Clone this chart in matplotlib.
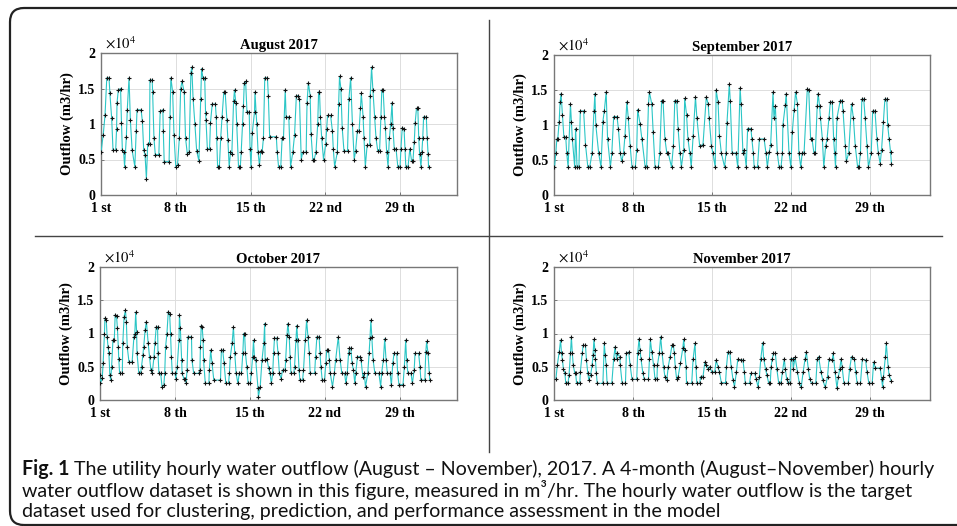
import matplotlib
matplotlib.use("Agg")
import matplotlib.pyplot as plt
import matplotlib.patches as mpatches
from matplotlib.lines import Line2D
from matplotlib.transforms import IdentityTransform

# ---------------- data (hour of month, outflow in 1e4 m3/hr) ----------------
aug_hours = [0, 5, 9, 13, 18, 20, 24, 27, 33, 35, 36, 39, 44, 46, 48, 51, 53, 57, 59, 63,
             66, 70, 76, 79, 81, 90, 93, 96, 99, 102, 105, 109, 110, 115, 116, 119, 122, 130, 133, 139,
             140, 142, 153, 155, 157, 161, 164, 168, 172, 176, 179, 182, 187, 190, 194, 198, 202, 204, 207, 211,
             215, 220, 224, 226, 229, 233, 235, 236, 239, 244, 246, 250, 257, 259, 260, 262, 266, 269, 272, 276,
             279, 283, 285, 288, 291, 294, 298, 300, 303, 305, 309, 313, 315, 318, 320, 322, 325, 328, 333, 335,
             337, 340, 345, 346, 350, 353, 356, 359, 362, 365, 368, 374, 376, 379, 394, 396, 399, 404, 407, 410,
             414, 416, 422, 426, 431, 435, 439, 442, 446, 450, 453, 461, 463, 466, 470, 472, 476, 479, 483, 487,
             489, 491, 493, 496, 500, 505, 507, 509, 516, 520, 522, 525, 531, 534, 536, 539, 542, 546, 554, 557,
             561, 565, 569, 572, 576, 580, 583, 585, 589, 591, 594, 598, 604, 605, 608, 611, 615, 618, 622, 626,
             629, 631, 634, 637, 639, 642, 645, 648, 651, 654, 656, 659, 663, 667, 672, 674, 677, 681, 683, 685,
             690, 694, 698, 701, 704, 706, 709, 712, 714, 716, 719, 721, 723, 725, 731, 733, 735, 736]
aug_flow = [0.6, 0.85, 1.12, 1.65, 1.65, 1.43, 1.08, 0.63, 0.63, 0.93, 1.3, 1.48, 1.5, 1.02, 0.63, 0.6, 0.4, 0.82, 1.2, 1.65,
            1.05, 0.63, 0.4, 0.9, 1.2, 1.2, 1.04, 0.63, 0.56, 0.23, 0.72, 0.72, 1.62, 1.62, 1.45, 0.8, 0.57, 0.57, 1.18, 1.2,
            0.9, 0.47, 0.47, 1.1, 1.65, 1.45, 0.85, 0.4, 0.42, 0.8, 1.5, 1.6, 1.45, 0.8, 0.58, 0.6, 1.72, 1.8, 1.35, 1.0,
            0.62, 0.48, 1.35, 1.78, 1.65, 1.65, 1.15, 1.05, 0.65, 0.65, 1.02, 1.28, 1.28, 1.1, 0.8, 0.4, 0.4, 0.8, 1.1, 1.45,
            1.45, 1.05, 0.78, 0.4, 0.6, 0.58, 1.33, 1.48, 1.3, 1.0, 0.4, 0.4, 0.6, 1.0, 1.25, 1.58, 1.6, 1.17, 1.17, 0.65,
            0.4, 0.88, 1.17, 1.45, 1.0, 0.6, 0.42, 0.62, 0.6, 0.8, 1.65, 1.65, 1.4, 0.82, 0.82, 0.6, 0.4, 0.4, 0.8, 0.8,
            1.48, 1.1, 1.1, 0.4, 0.6, 0.85, 1.4, 1.4, 1.35, 0.5, 0.6, 0.6, 1.3, 1.58, 1.4, 0.86, 0.5, 0.5, 0.6, 1.0,
            1.45, 1.45, 1.1, 0.8, 0.5, 0.72, 0.93, 1.12, 1.12, 0.9, 0.65, 0.4, 0.6, 1.28, 1.67, 1.5, 0.95, 0.62, 0.62, 1.35,
            1.65, 1.0, 0.5, 0.62, 0.9, 0.9, 1.22, 1.43, 1.1, 0.8, 0.4, 0.7, 0.7, 1.4, 1.8, 1.48, 1.1, 0.8, 0.62, 0.62,
            1.1, 1.48, 1.48, 1.1, 0.95, 0.6, 0.4, 0.8, 1.0, 1.3, 0.95, 0.65, 0.65, 0.4, 0.4, 0.65, 0.95, 0.93, 0.65, 0.4,
            0.4, 0.65, 0.48, 0.48, 0.75, 1.02, 1.22, 1.22, 0.8, 0.58, 0.4, 0.6, 0.8, 1.1, 1.1, 0.8, 0.58, 0.4]

sep_hours = [1, 4, 6, 8, 11, 13, 15, 18, 21, 25, 27, 30, 35, 37, 39, 44, 46, 49, 53, 56,
             63, 67, 72, 76, 81, 85, 87, 89, 95, 100, 104, 107, 111, 114, 120, 123, 127, 134, 137, 141,
             144, 148, 151, 155, 158, 162, 166, 173, 176, 178, 183, 187, 194, 197, 201, 203, 208, 211, 215, 222,
             225, 229, 232, 236, 240, 243, 250, 254, 257, 261, 264, 268, 271, 276, 278, 282, 285, 289, 292, 296,
             301, 304, 310, 317, 324, 328, 330, 335, 338, 343, 345, 349, 352, 356, 363, 366, 368, 373, 375, 379,
             387, 391, 396, 398, 402, 405, 409, 412, 419, 421, 424, 426, 433, 437, 447, 451, 454, 458, 461, 466,
             468, 471, 475, 479, 483, 486, 487, 492, 494, 500, 504, 507, 511, 514, 518, 521, 525, 528, 532, 539,
             542, 546, 549, 553, 556, 560, 562, 565, 567, 571, 574, 578, 581, 585, 588, 592, 595, 597, 599, 602,
             609, 613, 615, 620, 622, 627, 633, 637, 641, 646, 649, 652, 655, 659, 662, 666, 669, 675, 678, 683,
             687, 690, 694, 697, 701, 704, 708, 710, 713, 716, 718]
sep_flow = [0.4, 0.6, 0.8, 0.8, 1.05, 1.33, 1.45, 1.15, 0.83, 0.83, 0.6, 0.4, 1.3, 1.05, 0.8, 0.4, 0.95, 0.4, 0.4, 1.2,
            1.2, 0.72, 0.4, 0.4, 0.6, 1.2, 1.45, 1.0, 0.6, 0.4, 1.05, 1.2, 1.47, 0.8, 0.4, 0.6, 1.12, 1.12, 0.95, 0.6,
            0.48, 0.6, 0.85, 1.33, 1.1, 0.7, 0.4, 0.4, 0.65, 1.22, 1.02, 0.8, 0.4, 0.4, 1.3, 1.47, 1.3, 0.9, 0.4, 0.4,
            0.6, 1.35, 1.35, 0.8, 0.6, 0.6, 0.4, 0.7, 1.35, 1.35, 0.95, 0.6, 0.4, 0.65, 1.38, 1.15, 0.8, 0.6, 0.4, 0.85,
            1.4, 1.1, 0.7, 0.72, 1.4, 1.3, 1.1, 0.7, 0.6, 0.4, 1.5, 1.33, 0.85, 0.6, 0.4, 0.6, 1.03, 1.58, 1.35, 0.6,
            0.6, 0.4, 1.53, 1.3, 0.6, 0.65, 0.4, 0.95, 0.95, 0.8, 0.6, 0.4, 0.4, 0.8, 0.8, 0.6, 0.4, 0.62, 0.72, 1.47,
            1.1, 1.27, 0.6, 0.4, 0.4, 0.6, 1.0, 1.28, 1.45, 0.6, 0.4, 0.9, 1.22, 1.47, 1.3, 0.6, 0.4, 0.6, 0.6, 1.52,
            1.5, 0.8, 0.8, 0.6, 0.6, 1.27, 1.45, 1.27, 1.1, 0.8, 0.4, 0.7, 0.8, 1.1, 1.33, 1.33, 0.8, 0.6, 0.4, 1.1,
            1.35, 1.35, 1.2, 0.7, 0.48, 0.6, 1.3, 1.1, 0.7, 0.4, 0.4, 0.6, 1.37, 1.37, 1.1, 0.7, 0.4, 0.6, 1.2, 1.2,
            0.8, 0.6, 0.45, 0.65, 1.05, 1.37, 1.37, 1.0, 0.8, 0.62, 0.45]

oct_hours = [0, 1, 5, 7, 10, 11, 14, 16, 18, 20, 22, 24, 26, 29, 32, 34, 37, 39, 41, 42,
             44, 50, 51, 54, 57, 59, 61, 65, 72, 76, 78, 80, 82, 83, 87, 91, 93, 96, 98, 101,
             104, 108, 111, 114, 117, 121, 123, 126, 129, 130, 132, 136, 139, 143, 145, 147, 150, 153, 156, 158,
             160, 162, 168, 170, 173, 177, 178, 180, 183, 184, 188, 191, 193, 195, 197, 205, 206, 210, 221, 224,
             225, 227, 229, 231, 232, 236, 244, 245, 248, 251, 255, 270, 272, 275, 278, 282, 288, 290, 292, 296,
             299, 302, 305, 309, 312, 317, 320, 322, 324, 326, 329, 332, 337, 339, 342, 344, 346, 349, 354, 355,
             359, 363, 367, 369, 370, 374, 378, 381, 384, 387, 389, 391, 396, 399, 402, 406, 409, 415, 416, 419,
             421, 424, 426, 428, 434, 436, 439, 441, 443, 446, 448, 454, 456, 460, 463, 466, 469, 471, 481, 483,
             486, 491, 493, 495, 498, 503, 506, 508, 512, 514, 516, 521, 525, 528, 534, 538, 542, 548, 551, 554,
             557, 559, 562, 565, 568, 571, 573, 577, 583, 585, 589, 592, 595, 600, 603, 605, 607, 609, 612, 616,
             625, 629, 631, 635, 638, 641, 644, 650, 653, 656, 659, 665, 667, 670, 679, 682, 685, 687, 690, 697,
             700, 704, 706, 714, 717, 719, 728, 730, 732, 735, 738, 739]
oct_flow = [0.38, 0.25, 0.33, 0.55, 1.0, 1.23, 1.2, 0.95, 0.8, 0.7, 0.38, 0.3, 0.5, 0.9, 0.9, 1.28, 1.27, 1.08, 0.8, 0.62,
            0.4, 0.4, 0.85, 1.25, 1.35, 1.18, 0.8, 0.57, 0.57, 0.95, 1.0, 1.32, 1.03, 0.7, 0.4, 0.4, 0.5, 0.67, 0.8, 1.05,
            1.18, 0.85, 0.65, 0.45, 0.4, 0.65, 0.85, 1.1, 1.1, 0.7, 0.4, 0.4, 0.2, 0.22, 0.4, 0.8, 1.0, 1.33, 1.3, 1.0,
            0.65, 0.4, 0.4, 0.32, 0.5, 0.9, 1.28, 1.08, 0.6, 0.4, 0.32, 0.32, 0.25, 0.45, 0.95, 0.95, 0.6, 0.4, 0.4, 0.45,
            0.8, 1.12, 1.1, 0.9, 0.6, 0.25, 0.25, 0.45, 0.75, 0.55, 0.3, 0.3, 0.75, 0.75, 0.55, 0.25, 0.25, 0.4, 0.65, 0.85,
            1.1, 0.7, 0.4, 0.25, 0.4, 0.4, 0.7, 1.0, 1.0, 0.7, 0.5, 0.25, 0.25, 0.4, 0.65, 0.9, 0.65, 0.6, 0.18, 0.05,
            0.2, 0.6, 0.85, 1.15, 0.6, 0.62, 0.48, 0.4, 0.25, 0.4, 0.7, 0.93, 0.93, 0.7, 0.4, 0.32, 0.45, 0.45, 0.6, 0.98,
            1.15, 0.95, 0.65, 0.4, 0.4, 0.5, 0.9, 1.12, 0.9, 0.45, 0.3, 0.3, 0.45, 0.9, 1.2, 0.95, 0.7, 0.4, 0.4, 0.65,
            0.95, 0.95, 0.7, 0.5, 0.3, 0.3, 0.55, 0.75, 0.75, 0.6, 0.4, 0.2, 0.4, 0.6, 0.95, 0.6, 0.4, 0.4, 0.25, 0.4,
            0.7, 0.78, 0.78, 0.55, 0.45, 0.25, 0.4, 0.65, 0.65, 0.6, 0.35, 0.4, 0.2, 0.4, 0.7, 0.93, 1.2, 0.95, 0.6, 0.4,
            0.4, 0.2, 0.4, 0.6, 0.92, 0.6, 0.4, 0.4, 0.22, 0.55, 0.7, 0.7, 0.4, 0.23, 0.23, 0.5, 0.9, 0.6, 0.4, 0.4,
            0.25, 0.45, 0.7, 0.7, 0.5, 0.3, 0.3, 0.72, 0.88, 0.7, 0.4, 0.3]

nov_hours = [4, 7, 11, 14, 16, 18, 20, 23, 25, 30, 32, 35, 37, 39, 41, 44, 46, 48, 55, 56,
             60, 62, 67, 69, 72, 74, 78, 81, 83, 85, 87, 88, 90, 92, 104, 107, 109, 111, 113, 123,
             127, 130, 133, 135, 140, 141, 145, 152, 154, 159, 162, 166, 176, 178, 181, 183, 185, 189, 192, 201,
             203, 205, 208, 212, 215, 219, 220, 224, 227, 230, 233, 236, 240, 243, 247, 251, 254, 256, 258, 261,
             264, 269, 274, 276, 278, 281, 282, 293, 296, 300, 302, 304, 310, 312, 317, 321, 324, 328, 331, 336,
             342, 345, 349, 352, 356, 365, 367, 370, 374, 377, 381, 384, 388, 391, 398, 402, 405, 407, 416, 419,
             427, 430, 434, 437, 440, 444, 446, 450, 453, 457, 460, 462, 464, 467, 471, 474, 478, 483, 486, 490,
             492, 495, 498, 502, 504, 508, 509, 513, 518, 522, 526, 530, 534, 537, 541, 544, 548, 557, 560, 563,
             568, 572, 577, 582, 585, 592, 594, 598, 602, 605, 608, 611, 613, 617, 626, 629, 633, 639, 642, 645,
             652, 656, 663, 666, 670, 677, 680, 684, 694, 697, 699, 701, 705, 707, 711, 713, 718]
nov_flow = [0.31, 0.52, 0.72, 0.9, 0.7, 0.6, 0.47, 0.41, 0.26, 0.26, 0.38, 0.7, 0.95, 0.7, 0.52, 0.41, 0.4, 0.26, 0.26, 0.42,
            0.7, 0.82, 0.82, 0.6, 0.4, 0.3, 0.38, 0.52, 0.67, 0.91, 0.75, 0.62, 0.41, 0.25, 0.25, 0.85, 0.67, 0.52, 0.25, 0.25,
            0.62, 0.8, 0.62, 0.7, 0.65, 0.52, 0.25, 0.25, 0.7, 0.72, 0.52, 0.31, 0.31, 0.7, 0.92, 0.75, 0.62, 0.41, 0.31, 0.31,
            0.62, 0.91, 0.72, 0.52, 0.31, 0.31, 0.52, 0.7, 0.95, 0.7, 0.5, 0.35, 0.3, 0.5, 0.65, 0.82, 0.82, 0.7, 0.5, 0.31,
            0.35, 0.55, 0.78, 0.91, 0.75, 0.5, 0.25, 0.25, 0.62, 0.85, 0.5, 0.25, 0.25, 0.35, 0.35, 0.57, 0.52, 0.47, 0.5, 0.42,
            0.42, 0.6, 0.5, 0.42, 0.26, 0.26, 0.5, 0.72, 0.72, 0.5, 0.3, 0.2, 0.42, 0.61, 0.6, 0.6, 0.42, 0.25, 0.25, 0.4,
            0.4, 0.32, 0.2, 0.35, 0.62, 0.86, 0.62, 0.47, 0.37, 0.25, 0.25, 0.5, 0.61, 0.7, 0.7, 0.47, 0.26, 0.26, 0.42, 0.62,
            0.47, 0.32, 0.25, 0.25, 0.62, 0.62, 0.47, 0.64, 0.42, 0.25, 0.19, 0.42, 0.61, 0.72, 0.47, 0.32, 0.25, 0.25, 0.61, 0.65,
            0.42, 0.3, 0.19, 0.35, 0.61, 0.6, 0.7, 0.42, 0.18, 0.35, 0.47, 0.62, 0.5, 0.25, 0.25, 0.47, 0.65, 0.62, 0.42, 0.25,
            0.25, 0.61, 0.6, 0.42, 0.25, 0.25, 0.57, 0.48, 0.48, 0.32, 0.2, 0.35, 0.65, 0.85, 0.5, 0.37, 0.28]

titles = ["August 2017", "September 2017", "October 2017", "November 2017"]
tick_hours = [0, 168, 336, 504, 672]
tick_labels = ["1 st", "8 th", "15 th", "22 nd", "29 th"]
y_ticks = [0, 0.5, 1, 1.5, 2]
y_tick_labels = ["0", "0.5", "1", "1.5", "2"]
caption_bold = "Fig. 1"
caption_lines = [
    "The utility hourly water outflow (August \u2013 November), 2017. A 4-month (August\u2013November) hourly",
    "water outflow dataset is shown in this figure, measured in m\u00b3/hr. The hourly water outflow is the target",
    "dataset used for clustering, prediction, and performance assessment in the model",
]

# ---------------- figure ----------------
W, H = 957, 526
fig = plt.figure(figsize=(W / 100, H / 100), dpi=100)
plt.rcParams['mathtext.fontset'] = 'stix'
serif = ['Liberation Serif', 'DejaVu Serif']

# axes rectangles in pixel coords: (left, top, right, bottom)
rects = [(101, 53, 457, 195), (554, 55, 930, 195), (100, 267, 457, 400), (554, 267, 930, 400)]
series = [(aug_hours, aug_flow), (sep_hours, sep_flow), (oct_hours, oct_flow), (nov_hours, nov_flow)]

for (l, t, r, b), (hrs, flw), title in zip(rects, series, titles):
    ax = fig.add_axes([l / W, 1 - b / H, (r - l) / W, (b - t) / H])
    ax.plot(hrs, flw, color='#2cc6c6', lw=0.8, marker='+', ms=3.5, mec='#111111', mew=0.8, zorder=3)
    ax.set_xlim(0, 800)
    ax.set_ylim(0, 2)
    ax.set_xticks(tick_hours)
    ax.set_xticklabels(tick_labels, fontfamily=serif, fontweight='bold', fontsize=10)
    ax.set_yticks(y_ticks)
    ax.set_yticklabels(y_tick_labels, fontfamily=serif, fontweight='bold', fontsize=10)
    ax.tick_params(direction='in', length=2.5, width=0.6, color='#666666')
    ax.tick_params(axis='x', pad=5)
    ax.tick_params(axis='y', pad=4)
    ax.grid(True, color='#dddddd', lw=0.7, zorder=0)
    for sp in ax.spines.values():
        sp.set_color('#777777')
        sp.set_linewidth(1.0)
    ax.set_title(title, fontfamily=serif, fontweight='bold', fontsize=10.5, pad=3)
    ax.set_ylabel("Outflow (m3/hr)", fontfamily=serif, fontweight='bold', fontsize=10.5, labelpad=3)
    ax.text(0.01, 1.01, r'$\times 10^{4}$', transform=ax.transAxes, fontsize=10.5,
            ha='left', va='bottom')

# outer rounded frame
frame = mpatches.FancyBboxPatch((10, 1), 975, 517, boxstyle="round,pad=0,rounding_size=14",
                                transform=IdentityTransform(), fill=False, lw=1.6, ec='#222222')
fig.add_artist(frame)

# divider lines
fig.add_artist(Line2D([489 / W, 489 / W], [1 - 20 / H, 1 - 452 / H], transform=fig.transFigure,
                      color='#444444', lw=1.0))
fig.add_artist(Line2D([35 / W, 942 / W], [1 - 236 / H, 1 - 236 / H], transform=fig.transFigure,
                      color='#444444', lw=1.0))

# caption
cap_font = ['Lato', 'DejaVu Sans']
cap_size = 14.1
line_y = [469, 490.5, 512]
tb = fig.text(22 / W, 1 - line_y[0] / H, caption_bold, fontfamily=cap_font, fontweight='bold',
              fontsize=cap_size, va='center', ha='left', color='#111111')
fig.canvas.draw()
bb = tb.get_window_extent()
fig.text((bb.x1 + 5) / W, 1 - line_y[0] / H, caption_lines[0], fontfamily=cap_font,
         fontsize=cap_size, va='center', ha='left', color='#111111')
for yy, txt in zip(line_y[1:], caption_lines[1:]):
    fig.text(22 / W, 1 - yy / H, txt, fontfamily=cap_font, fontsize=cap_size,
             va='center', ha='left', color='#111111')

fig.savefig("out.png", dpi=100)
